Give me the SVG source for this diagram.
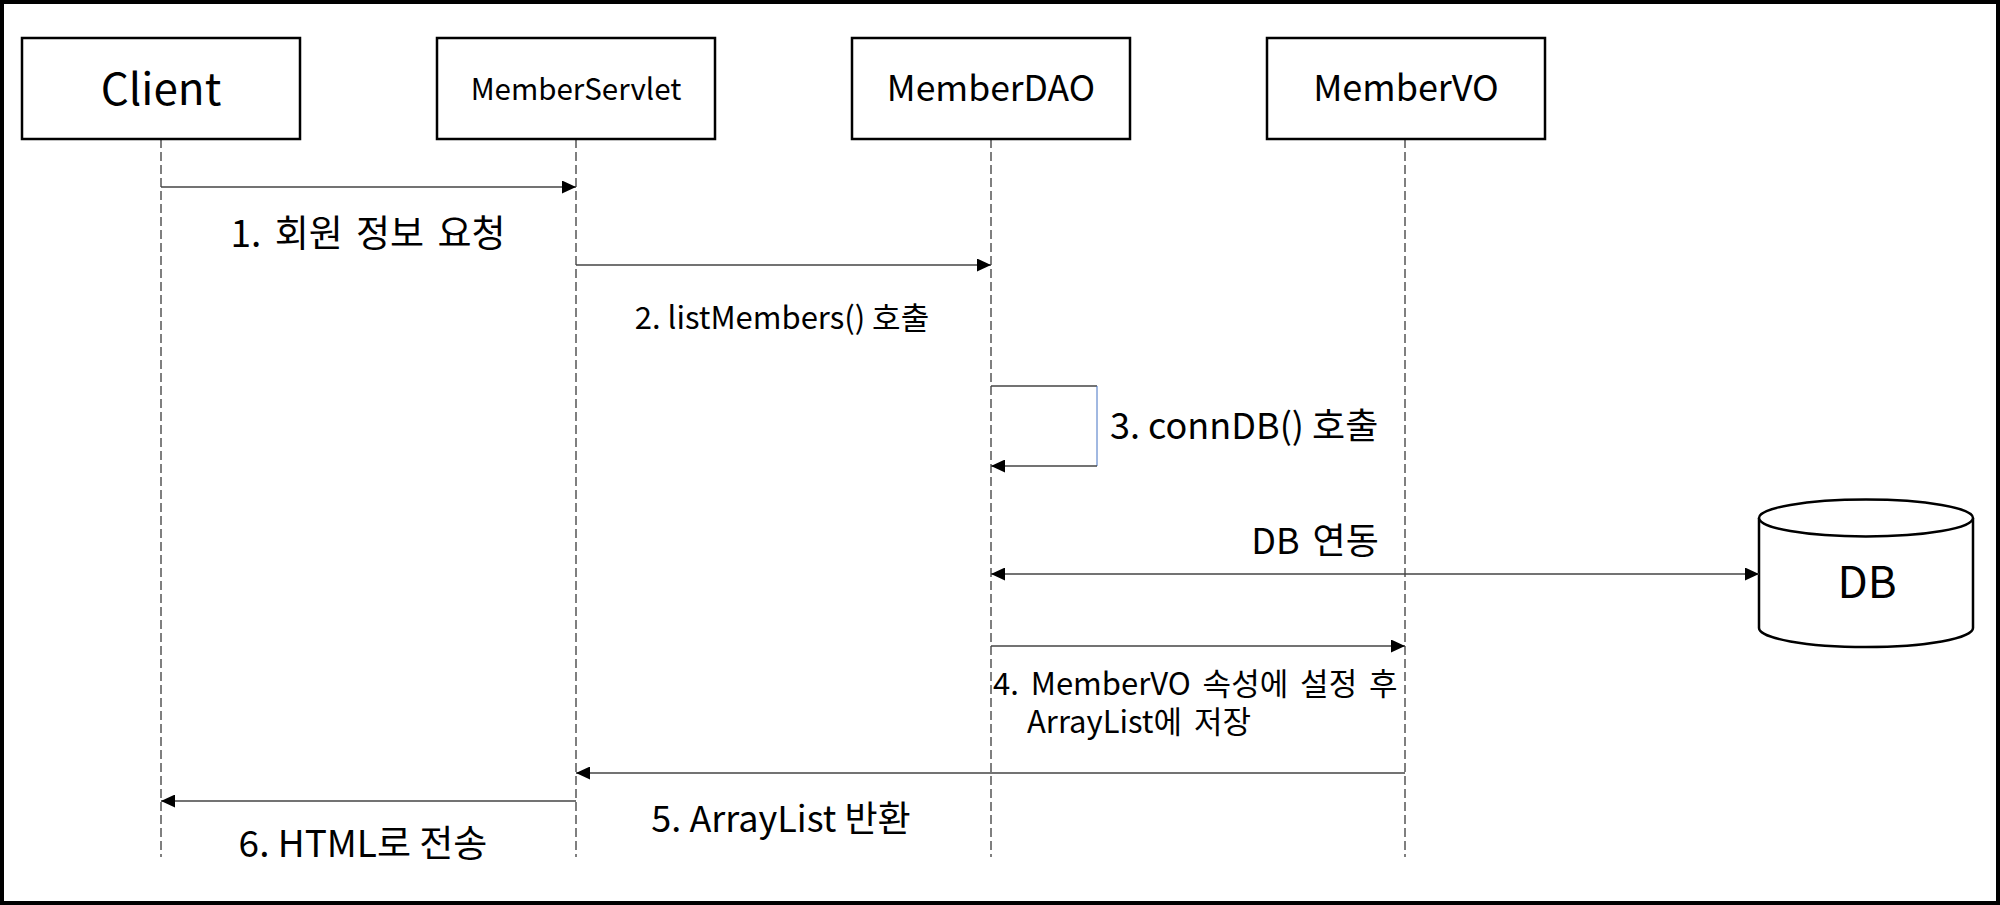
<svg xmlns="http://www.w3.org/2000/svg" width="2000" height="905" viewBox="0 0 2000 905">
  <style>
    text { font-family: "Noto Sans CJK KR", "Noto Sans", sans-serif; fill: #000; }
    .box { fill: #fff; stroke: #000; stroke-width: 2.5; }
    .life { stroke: #555; stroke-width: 1.5; stroke-dasharray: 9 4; fill: none; }
    .msg { stroke: #444; stroke-width: 1.5; fill: none; }
    .loopv { stroke: #4472C4; stroke-width: 1; fill: none; }
    .ws { word-spacing: 5px; }
  </style>
  <defs>
    <marker id="arr" markerUnits="userSpaceOnUse" markerWidth="14" markerHeight="13" refX="14" refY="6.5" orient="auto">
      <path d="M0,0 L14,6.5 L0,13 z" fill="#000"/>
    </marker>
    <marker id="arrs" markerUnits="userSpaceOnUse" markerWidth="14" markerHeight="13" refX="0" refY="6.5" orient="auto">
      <path d="M14,0 L0,6.5 L14,13 z" fill="#000"/>
    </marker>
  </defs>
  <rect x="2" y="2" width="1996" height="901" fill="#fff" stroke="#000" stroke-width="4"/>

  <g id="lifelines">
    <line class="life" x1="161" y1="139" x2="161" y2="857"/>
    <line class="life" x1="576" y1="139" x2="576" y2="857"/>
    <line class="life" x1="991" y1="139" x2="991" y2="857"/>
    <line class="life" x1="1405" y1="139" x2="1405" y2="857"/>
  </g>

  <g id="client">
    <rect class="box" x="22" y="38" width="278" height="101"/>
    <text x="161" y="105" font-size="44" text-anchor="middle">Client</text>
  </g>
  <g id="memberservlet">
    <rect class="box" x="437" y="38" width="278" height="101"/>
    <text x="576" y="100" font-size="29.5" text-anchor="middle">MemberServlet</text>
  </g>
  <g id="memberdao">
    <rect class="box" x="852" y="38" width="278" height="101"/>
    <text x="991" y="101" font-size="35.5" text-anchor="middle">MemberDAO</text>
  </g>
  <g id="membervo">
    <rect class="box" x="1267" y="38" width="278" height="101"/>
    <text x="1406" y="101" font-size="36" text-anchor="middle">MemberVO</text>
  </g>
  <g id="db">
    <path class="box" d="M1759,518 L1759,628 A107,19 0 0 0 1973,628 L1973,518"/>
    <ellipse class="box" cx="1866" cy="518" rx="107" ry="18.5"/>
    <text x="1867" y="598" font-size="44" text-anchor="middle">DB</text>
  </g>

  <g id="connectors">
    <line class="msg" x1="161" y1="187" x2="576" y2="187" marker-end="url(#arr)"/>
    <line class="msg" x1="576" y1="265" x2="991" y2="265" marker-end="url(#arr)"/>
    <line class="msg" x1="991" y1="386" x2="1097" y2="386"/>
    <line class="loopv" x1="1097" y1="386" x2="1097" y2="466"/>
    <line class="msg" x1="1097" y1="466" x2="991" y2="466" marker-end="url(#arr)"/>
    <line class="msg" x1="991" y1="574" x2="1759" y2="574" marker-start="url(#arrs)" marker-end="url(#arr)"/>
    <line class="msg" x1="991" y1="646" x2="1405" y2="646" marker-end="url(#arr)"/>
    <line class="msg" x1="1405" y1="773" x2="576" y2="773" marker-end="url(#arr)"/>
    <line class="msg" x1="576" y1="801" x2="161" y2="801" marker-end="url(#arr)"/>
  </g>

  <g id="labels">
    <text class="ws" x="368" y="247" font-size="37" text-anchor="middle">1. 회원 정보 요청</text>
    <text x="782" y="329" font-size="31" text-anchor="middle">2. listMembers() 호출</text>
    <text x="1110" y="439" font-size="36">3. connDB() 호출</text>
    <text class="ws" x="1315" y="554" font-size="36" text-anchor="middle">DB 연동</text>
    <text class="ws" font-size="31"><tspan x="993" y="695">4. MemberVO 속성에 설정 후</tspan><tspan x="1027" y="733">ArrayList에 저장</tspan></text>
    <text x="781" y="832" font-size="36" text-anchor="middle">5. ArrayList 반환</text>
    <text x="363" y="857" font-size="37" text-anchor="middle">6. HTML로 전송</text>
  </g>
</svg>
